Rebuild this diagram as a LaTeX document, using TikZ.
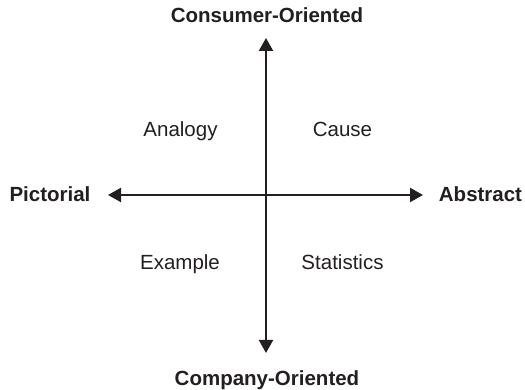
\documentclass[tikz,border=0pt]{standalone}
\usepackage{fontspec}
\setmainfont{Liberation Sans}
\usetikzlibrary{arrows.meta}
\definecolor{ink}{HTML}{231F20}
\begin{document}
\begin{tikzpicture}[x=1pt,y=1pt,
  axis/.style={line width=2.2pt,draw=ink,{Triangle[length=13pt,width=14pt]}-{Triangle[length=13pt,width=14pt]}},
  pole/.style={font=\fontsize{20.5}{24}\selectfont\bfseries,text=ink,inner sep=0pt,anchor=base},
  quad/.style={font=\fontsize{20.5}{24}\selectfont,text=ink,inner sep=0pt,anchor=base}]
\useasboundingbox (0,0) rectangle (525,390);
\coordinate (L) at (108,195);
\coordinate (R) at (423,195);
\coordinate (T) at (266,352);
\coordinate (B) at (266,37);
\draw[axis] (L) -- (R);
\draw[axis] (B) -- (T);
\node[pole] (top) at (267,367) {Consumer-Oriented};
\node[pole] (bot) at (267,4.5) {Company-Oriented};
\node[pole] (left) at (50,188) {Pictorial};
\node[pole] (right) at (480.5,188) {Abstract};
\node[quad] (q1) at (180.5,253) {Analogy};
\node[quad] (q2) at (342.5,253) {Cause};
\node[quad] (q3) at (180,120) {Example};
\node[quad] (q4) at (342.5,120) {Statistics};
\end{tikzpicture}
\end{document}
